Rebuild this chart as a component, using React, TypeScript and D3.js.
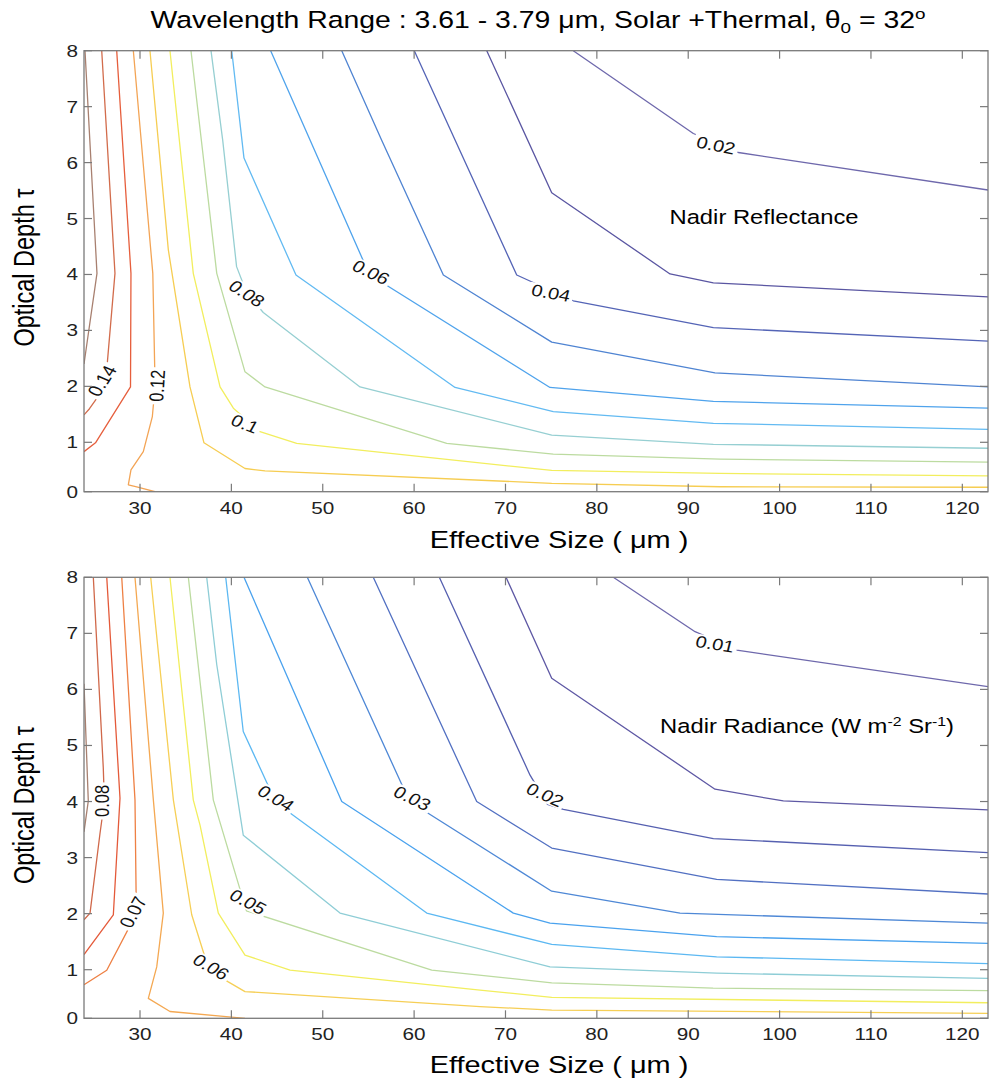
import React from 'react';
import * as d3 from 'd3';

const W = 989;
const H = 1081;
const S = 1.22; // horizontal stretch of the reference's lettering
const FONT = "'Liberation Sans', Arial, Helvetica, sans-serif";

// ---------- axes ----------
const xDomain = [23.87, 122.81];
const xTicks = [30, 40, 50, 60, 70, 80, 90, 100, 110, 120];
const yTicks = [0, 1, 2, 3, 4, 5, 6, 7, 8];
const yKnots = [0, 1, 8];

// ---------- top panel: nadir reflectance ----------
const reflLevels = [0.02, 0.03, 0.04, 0.05, 0.06, 0.07, 0.08, 0.09, 0.1, 0.11, 0.12, 0.13, 0.14, 0.15];
const reflLines: number[][][] = [
  [[77.42, 8], [90.56, 6.52], [95.48, 6.18], [122.81, 5.51]],
  [[67.95, 8], [75.06, 5.46], [88.01, 4.01], [92.75, 3.85], [122.81, 3.6]],
  [[60.02, 8], [71.23, 3.99], [77.42, 3.53], [92.75, 3.05], [122.81, 2.81]],
  [[52.08, 8], [56.45, 6.4], [63.2, 3.99], [75.06, 2.79], [92.93, 2.24], [122.81, 1.99]],
  [[44.3, 8], [55.1, 4.0], [74.87, 1.98], [92.75, 1.73], [122.81, 1.61]],
  [[40.04, 8], [41.38, 6.08], [47.07, 3.99], [64.48, 1.98], [75.23, 1.55], [92.75, 1.34], [122.81, 1.23]],
  [[37.77, 8], [39.05, 6.4], [40.57, 4.14], [41.68, 3.67], [43.49, 3.32], [54.08, 1.99], [75.06, 1.13], [92.75, 0.96], [122.81, 0.88]],
  [[35.58, 8], [38.4, 4.02], [41.49, 2.26], [43.68, 1.99], [63.57, 0.98], [75.23, 0.76], [93.48, 0.66], [122.81, 0.6]],
  [[33.28, 8], [35.83, 4.02], [38.76, 1.99], [40.22, 1.61], [43.13, 1.19], [47.15, 0.98], [54.08, 0.84], [75.06, 0.43], [93.48, 0.37], [122.81, 0.32]],
  [[31.09, 8], [33.1, 4.44], [35.47, 1.99], [37.0, 0.99], [41.49, 0.47], [43.68, 0.42], [75.06, 0.17], [93.48, 0.1], [122.81, 0.09]],
  [[29.27, 8], [31.4, 4.02], [31.65, 2.0], [31.35, 1.46], [30.36, 0.81], [29.01, 0.44], [28.72, 0.14], [29.64, 0.1], [31.64, 0]],
  [[27.45, 8], [29.01, 4.02], [28.96, 1.99], [25.13, 0.99], [23.87, 0.81]],
  [[25.81, 8], [27.26, 4.02], [26.2, 2.0], [24.47, 1.6], [23.87, 1.49]],
  [[23.98, 8], [25.29, 4.02], [23.87, 2.4]],
];
const reflLabelText = ['0.02', '0.04', '0.06', '0.08', '0.1', '0.12', '0.14'];
const reflLabelX = [93.04, 74.98, 55.28, 41.68, 41.49, 31.86, 25.84];
const reflLabelTau = [6.31, 3.67, 4.04, 3.66, 1.33, 2.01, 2.1];
const reflLabelAngle = [13, 12, 30, 38, 25, -87, -62];

// ---------- bottom panel: nadir radiance ----------
const radLevels = [0.01, 0.015, 0.02, 0.025, 0.03, 0.035, 0.04, 0.045, 0.05, 0.055, 0.06, 0.065, 0.07, 0.075, 0.08, 0.085];
const radLines: number[][][] = [
  [[81.8, 8], [90.75, 7.03], [95.31, 6.7], [122.81, 6.05]],
  [[70.06, 8], [75.06, 6.2], [92.93, 4.22], [100.41, 4.01], [122.81, 3.85]],
  [[62.76, 8], [72.69, 4.47], [74.6, 3.95], [76.33, 3.86], [92.75, 3.34], [122.81, 3.09]],
  [[55.53, 8], [66.85, 4.0], [75.06, 3.17], [93.11, 2.61], [122.81, 2.35]],
  [[48.31, 8], [59.5, 4.0], [75.06, 2.4], [89.1, 2.01], [122.81, 1.83]],
  [[41.38, 8], [52.08, 4.0], [70.86, 2.01], [74.87, 1.83], [93.11, 1.59], [122.81, 1.47]],
  [[39.38, 8], [41.3, 5.25], [44.89, 3.98], [61.38, 2.01], [75.06, 1.45], [93.11, 1.23], [122.81, 1.11]],
  [[37.3, 8], [38.4, 6.44], [41.3, 3.4], [51.89, 2.01], [74.87, 1.05], [93.11, 0.93], [122.81, 0.82]],
  [[35.29, 8], [38.02, 4.03], [41.65, 2.05], [61.93, 0.99], [75.06, 0.73], [92.72, 0.62], [122.81, 0.57]],
  [[33.28, 8], [35.83, 4.03], [36.57, 3.58], [38.57, 2.01], [41.49, 1.26], [46.42, 0.99], [67.21, 0.58], [75.06, 0.43], [122.81, 0.32]],
  [[31.17, 8], [33.65, 4.03], [35.66, 1.98], [37.54, 1.0], [39.66, 0.75], [41.49, 0.55], [67.21, 0.24], [75.06, 0.17], [122.81, 0.1]],
  [[29.45, 8], [31.46, 4.03], [32.55, 2.01], [31.83, 1.05], [30.91, 0.41], [33.28, 0.14], [41.49, 0]],
  [[28.0, 8], [29.45, 4.03], [29.6, 2.0], [26.36, 0.99], [23.87, 0.69]],
  [[26.36, 8], [27.81, 4.06], [27.08, 1.98], [23.87, 1.27]],
  [[24.89, 8], [25.98, 4.6], [26.1, 4.0], [25.62, 3.43], [24.53, 2.01], [23.87, 1.89]],
  [[23.87, 6.1], [24.34, 4.01], [23.87, 3.46]],
];
const radLabelText = ['0.01', '0.02', '0.03', '0.04', '0.05', '0.06', '0.07', '0.08'];
const radLabelX = [92.93, 74.33, 59.8, 44.88, 41.82, 37.77, 29.23, 25.84];
const radLabelTau = [6.81, 4.12, 4.06, 4.06, 2.21, 1.05, 2.03, 4.01];
const radLabelAngle = [11, 28, 30, 35, 32, 35, -65, -90];

// ---------- colours (styles, kept apart from the data) ----------
const reflColors = ['#6e68ac', '#5a56a2', '#5464b6', '#4f84d2', '#4fa3ec', '#62baf2', '#96cfd2', '#bcdba0', '#f2ee5e', '#f6cd52', '#f3a455', '#e65e3c', '#d26c4c', '#a88070'];
const radColors = ['#6e68ac', '#5e58a4', '#5660b0', '#5270c2', '#4e88d6', '#4aa2ee', '#5cb8f2', '#8ecdd6', '#bcdba0', '#f2ee5e', '#f6cf56', '#f4a852', '#ee8044', '#e45a3a', '#d0684a', '#a88070'];

const x = d3.scaleLinear().domain(xDomain).range([84, 988]);

type PanelGeom = { y0: number; y1: number; y8: number };

function SText(props: {
  x: number; y: number; rot?: number; size: number; anchor?: string; children: React.ReactNode;
  baseline?: string; fill?: string;
}) {
  const { rot = 0, anchor = 'middle', baseline, fill = '#000' } = props;
  return (
    <text
      transform={`translate(${props.x},${props.y}) scale(${S},1) rotate(${rot})`}
      textAnchor={anchor}
      dominantBaseline={baseline}
      fontSize={props.size}
      fontFamily={FONT}
      fill={fill}
    >
      {props.children}
    </text>
  );
}

function Panel(props: {
  id: string;
  g: PanelGeom;
  lines: number[][][];
  colors: string[];
  labelText: string[];
  labelX: number[];
  labelTau: number[];
  labelAngle: number[];
  note: React.ReactNode;
  xTitleY: number;
  yTitleY: number;
}) {
  const { g } = props;
  const y = d3.scaleLinear().domain(yKnots).range([g.y0, g.y1, g.y8]);
  const line = d3.line<number[]>().x((d) => x(d[0])).y((d) => y(d[1]));
  const [x0, x1] = x.range();
  const labFs = 16.5;
  const tickFs = 17;
  const axisColor = '#7a7a7a';
  const tickLen = 8;
  return (
    <g>
      <defs>
        <clipPath id={`clip-${props.id}`}>
          <rect x={x0} y={g.y8} width={x1 - x0} height={g.y0 - g.y8} />
        </clipPath>
        <mask id={`mask-${props.id}`} maskUnits="userSpaceOnUse" x={0} y={0} width={W} height={H}>
          <rect x={0} y={0} width={W} height={H} fill="#fff" />
          {props.labelText.map((t, i) => {
            const w = (t.replace('.', '').length * 0.556 + 0.278) * labFs + 5;
            const h = labFs * 0.9;
            return (
              <rect
                key={i}
                transform={`translate(${x(props.labelX[i])},${y(props.labelTau[i])}) scale(${S},1) rotate(${props.labelAngle[i]})`}
                x={-w / 2}
                y={-h / 2}
                width={w}
                height={h}
                fill="#000"
              />
            );
          })}
        </mask>
      </defs>
      <g clipPath={`url(#clip-${props.id})`}>
        <g mask={`url(#mask-${props.id})`}>
          {props.lines.map((pts, i) => (
            <path key={i} d={line(pts) || ''} fill="none" stroke={props.colors[i]} strokeWidth={1.3} strokeLinejoin="round" />
          ))}
        </g>
      </g>
      {props.labelText.map((t, i) => (
        <SText
          key={i}
          x={x(props.labelX[i])}
          y={y(props.labelTau[i])}
          rot={props.labelAngle[i]}
          size={labFs}
          baseline="central"
          fill="#111"
        >
          {t}
        </SText>
      ))}
      {/* axes box */}
      <rect x={x0} y={g.y8} width={x1 - x0} height={g.y0 - g.y8} fill="none" stroke={axisColor} strokeWidth={1.3} />
      {xTicks.map((t) => (
        <g key={`xt${t}`}>
          <line x1={x(t)} x2={x(t)} y1={g.y0} y2={g.y0 - tickLen} stroke={axisColor} strokeWidth={1.2} />
          <line x1={x(t)} x2={x(t)} y1={g.y8} y2={g.y8 + tickLen} stroke={axisColor} strokeWidth={1.2} />
          <SText x={x(t)} y={g.y0 + 22} size={tickFs} fill="#222">{t}</SText>
        </g>
      ))}
      {yTicks.map((t) => (
        <g key={`yt${t}`}>
          <line x1={x0} x2={x0 + tickLen} y1={y(t)} y2={y(t)} stroke={axisColor} strokeWidth={1.2} />
          <line x1={x1} x2={x1 - tickLen} y1={y(t)} y2={y(t)} stroke={axisColor} strokeWidth={1.2} />
          <SText x={78} y={y(t) + 6} size={tickFs} anchor="end" fill="#222">{t}</SText>
        </g>
      ))}
      <SText x={559} y={props.xTitleY} size={23.7}>Effective Size ( μm )</SText>
      <SText x={34} y={props.yTitleY} size={23.5} rot={-90}>Optical Depth τ</SText>
      {props.note}
    </g>
  );
}

export default function App() {
  return (
    <svg
      width={W}
      height={H}
      viewBox={`0 0 ${W} ${H}`}
      style={{ display: 'block', position: 'absolute', left: 0, top: 0, background: '#fff' }}
    >
      <rect width={W} height={H} fill="#fff" />
      <SText x={538} y={28} size={23.3}>
        Wavelength Range : 3.61 - 3.79 μm, Solar +Thermal, θ
        <tspan fontSize={15.5} dy={5}>0</tspan>
        <tspan dy={-5}> = 32</tspan>
        <tspan fontSize={15.5} dy={-9}>o</tspan>
      </SText>
      <Panel
        id="refl"
        g={{ y0: 491.7, y1: 442.3, y8: 50.7 }}
        lines={reflLines}
        colors={reflColors}
        labelText={reflLabelText}
        labelX={reflLabelX}
        labelTau={reflLabelTau}
        labelAngle={reflLabelAngle}
        xTitleY={548}
        yTitleY={267.5}
        note={<SText x={764} y={223.5} size={19.5}>Nadir Reflectance</SText>}
      />
      <Panel
        id="rad"
        g={{ y0: 1018.3, y1: 969.7, y8: 577.3 }}
        lines={radLines}
        colors={radColors}
        labelText={radLabelText}
        labelX={radLabelX}
        labelTau={radLabelTau}
        labelAngle={radLabelAngle}
        xTitleY={1073}
        yTitleY={805}
        note={
          <SText x={807} y={733} size={19.5}>
            Nadir Radiance (W m
            <tspan fontSize={13} dy={-7}>-2</tspan>
            <tspan dy={7}> Sr</tspan>
            <tspan fontSize={13} dy={-7}>-1</tspan>
            <tspan dy={7}>)</tspan>
          </SText>
        }
      />
    </svg>
  );
}
